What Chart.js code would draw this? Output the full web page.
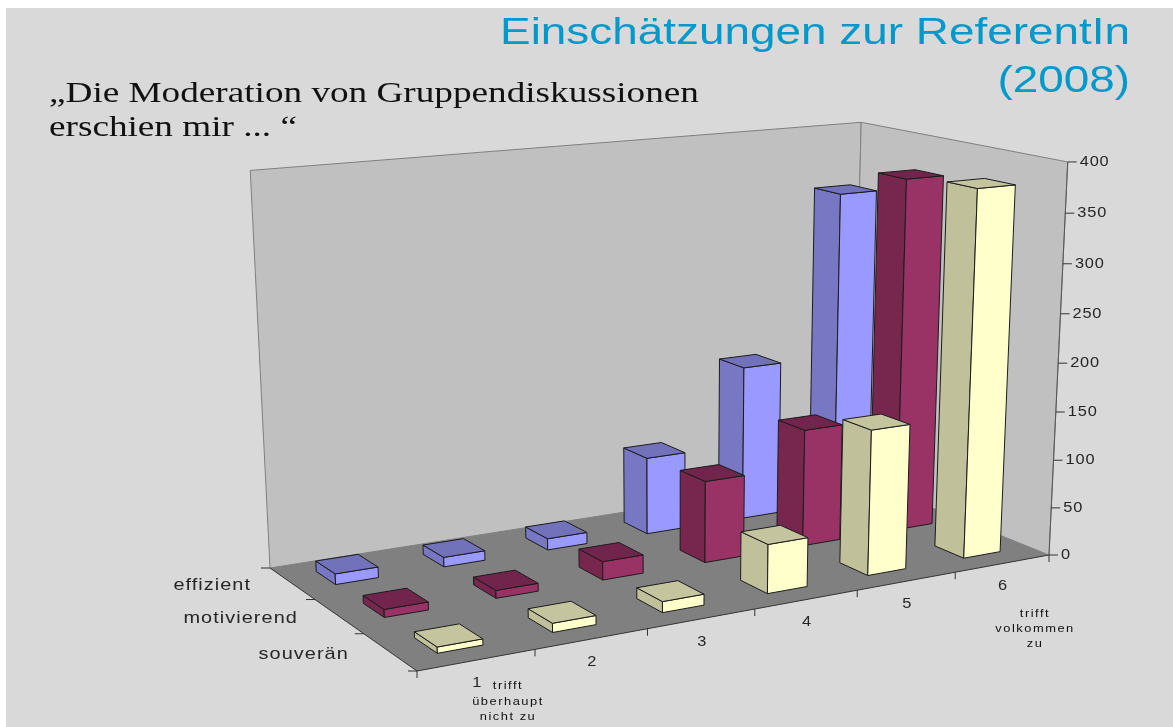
<!DOCTYPE html>
<html><head><meta charset="utf-8">
<style>
html,body{margin:0;padding:0;background:#fff;width:1173px;height:727px;overflow:hidden}
#panel{position:absolute;left:6px;top:8px;right:0;bottom:0;background:#d9d9d9}
#c{position:absolute;left:0;top:0}
</style>
<script src="https://cdn.jsdelivr.net/npm/chart.js@4"></script>
</head><body><div id="panel"></div><canvas id="c" width="1173" height="727"></canvas>
<script>
const categories = ['1','2','3','4','5','6'];
const seriesNames = ['effizient','motivierend','souverän'];
const effizient = [11,10,12,82,165,339];
const motivierend = [8,8,19,85,123,370];
const souveran = [6,9,11,50,149,376];
const yTicks = [0,50,100,150,200,250,300,350,400];
const titleLines = ['Einschätzungen zur ReferentIn','(2008)'];
const questionLines = ['„Die Moderation von Gruppendiskussionen','erschien mir ... “'];
const lowNote = ['trifft','überhaupt','nicht zu'];
const highNote = ['trifft','volkommen','zu'];

const faces = [
 {front:'#9999ff',side:'#7777c4',top:'#7272bb'},
 {front:'#993366',side:'#77264e',top:'#72254c'},
 {front:'#ffffcc',side:'#c0c09a',top:'#c4c49e'}
];
// camera calibration: floor corners and the three visible top corners of the box
const floorQ = [[417,671],[1049,555],[853,476],[270,568]];
const topCorners = [[1,0,1067,162.7],[0,1,250,170],[1,1,862,122]];
const TITLE_ANCHOR = 1130, STRETCH = 1.17, TITLE_STRETCH = 1.24;

function floorMap(q){
  const [p0,p1,p2,p3]=q;
  const dx1=p1[0]-p2[0],dx2=p3[0]-p2[0],sx=p0[0]-p1[0]+p2[0]-p3[0];
  const dy1=p1[1]-p2[1],dy2=p3[1]-p2[1],sy=p0[1]-p1[1]+p2[1]-p3[1];
  const den=dx1*dy2-dx2*dy1;
  const g=(sx*dy2-dx2*sy)/den,h=(dx1*sy-sx*dy1)/den;
  const a=p1[0]-p0[0]+g*p1[0],b=p3[0]-p0[0]+h*p3[0],c=p0[0];
  const d=p1[1]-p0[1]+g*p1[1],e=p3[1]-p0[1]+h*p3[1],f=p0[1];
  return (u,v)=>({X:a*u+b*v+c,Y:d*u+e*v+f,W:g*u+h*v+1});
}
const fm=floorMap(floorQ);
// least squares for the vertical axis of the projection
const cam=(()=>{
  let M=[[0,0,0,0],[0,0,0,0],[0,0,0,0]];
  const add=(r,y)=>{for(let i=0;i<3;i++){for(let j=0;j<3;j++)M[i][j]+=r[i]*r[j];M[i][3]+=r[i]*y;}};
  topCorners.forEach(([u,v,tx,ty])=>{const n=fm(u,v);
    add([1,0,-tx],n.W*tx-n.X);add([0,1,-ty],n.W*ty-n.Y);});
  for(let i=0;i<3;i++){
    const pv=M[i][i];for(let j=i;j<4;j++)M[i][j]/=pv;
    for(let r=0;r<3;r++)if(r!==i){const f=M[r][i];for(let j=i;j<4;j++)M[r][j]-=f*M[i][j];}
  }
  return {cx:M[0][3],cy:M[1][3],k:M[2][3]};
})();
function proj(u,d,t){const n=fm(u,d),w=n.W+t*cam.k;return [(n.X+t*cam.cx)/w,(n.Y+t*cam.cy)/w];}
function poly(ctx,pts,fill,stroke,lw){
  ctx.beginPath();pts.forEach((p,i)=>i?ctx.lineTo(p[0],p[1]):ctx.moveTo(p[0],p[1]));ctx.closePath();
  if(fill){ctx.fillStyle=fill;ctx.fill();}
  if(stroke){ctx.strokeStyle=stroke;ctx.lineWidth=lw||1;ctx.stroke();}
}
function seg(ctx,a,b,c,lw){ctx.beginPath();ctx.moveTo(a[0],a[1]);ctx.lineTo(b[0],b[1]);ctx.strokeStyle=c;ctx.lineWidth=lw||1;ctx.stroke();}
function label(ctx,t,x,y,font,align,spacing,color,stretch){
  ctx.save();ctx.translate(x,y);ctx.scale(stretch||STRETCH,1);
  ctx.font=font;ctx.textAlign=align;ctx.textBaseline='middle';ctx.fillStyle=color||'#262626';ctx.letterSpacing=spacing||'0px';ctx.fillText(t,0,0);ctx.restore();
}

const box3d={
 id:'box3d',
 beforeDraw(chart){
  const ctx=chart.ctx;ctx.save();ctx.translate(TITLE_ANCHOR,0);ctx.scale(TITLE_STRETCH,1);ctx.translate(-TITLE_ANCHOR,0);
 },
 beforeDatasetsDraw(chart){
  const ctx=chart.ctx,sx=chart.scales.x,sy=chart.scales.y,sz=chart.scales.z,A=chart.chartArea;
  ctx.restore();
  ctx.save();
  const U=i=>(sx.getPixelForValue(i)-A.left)/A.width;
  const D=i=>(A.bottom-sz.getPixelForValue(i))/A.height;
  const H=v=>(A.bottom-sy.getPixelForValue(v))/A.height;
  const cu=1/categories.length,cd=1/seriesNames.length;

  const edge='#7f7f7f';
  poly(ctx,[proj(0,1,0),proj(1,1,0),proj(1,1,1),proj(0,1,1)],'#c0c0c0',edge);
  poly(ctx,[proj(1,1,0),proj(1,0,0),proj(1,0,1),proj(1,1,1)],'#c0c0c0',edge);
  poly(ctx,[proj(0,0,0),proj(1,0,0),proj(1,1,0),proj(0,1,0)],'#808080',null);

  const ink='#333';
  seg(ctx,proj(0,0,0),proj(1,0,0),ink);
  seg(ctx,proj(0,0,0),proj(0,1,0),ink);
  seg(ctx,proj(1,0,0),proj(1,0,1),'#555');
  for(let i=0;i<=categories.length;i++){const p=proj(i*cu,0,0);seg(ctx,p,[p[0],p[1]+7],ink);}
  for(let i=0;i<=seriesNames.length;i++){const p=proj(0,i*cd,0);seg(ctx,[p[0]-9,p[1]],p,ink);}
  sy.ticks.forEach(t=>{const p=proj(1,0,H(t.value));seg(ctx,p,[p[0]+9,p[1]],ink);
    label(ctx,String(t.value),p[0]+12,p[1],'14px "Liberation Sans"','left','0.7px');});
  categories.forEach((c,i)=>{const p=proj(U(i),0,0);label(ctx,c,p[0],p[1]+23,'14px "Liberation Sans"','center');});
  seriesNames.forEach((s,i)=>{const p=proj(0,D(i),0);label(ctx,s,p[0]-41,p[1]+2,'17px "Liberation Sans"','right','0.9px');});

  const wu=cu*0.39/2,wd=cd*0.42/2;
  chart.data.datasets.forEach((ds,si)=>{
    const f=faces[si],d0=D(si)-wd,d1=D(si)+wd;
    for(let i=ds.data.length-1;i>=0;i--){
      const u0=U(i)-wu,u1=U(i)+wu,h=H(ds.data[i]);
      poly(ctx,[proj(u0,d1,0),proj(u0,d0,0),proj(u0,d0,h),proj(u0,d1,h)],f.side,'#1c1c1c');
      poly(ctx,[proj(u0,d0,0),proj(u1,d0,0),proj(u1,d0,h),proj(u0,d0,h)],f.front,'#1c1c1c');
      poly(ctx,[proj(u0,d0,h),proj(u1,d0,h),proj(u1,d1,h),proj(u0,d1,h)],f.top,'#1c1c1c');
    }
  });

  lowNote.forEach((t,i)=>label(ctx,t,508,686+i*15.5,'11px "Liberation Sans"','center','1.3px','#111'));
  highNote.forEach((t,i)=>label(ctx,t,1035,614+i*15,'11px "Liberation Sans"','center','1.3px','#111'));
  questionLines.forEach((t,i)=>label(ctx,t,49,94+i*34,'30px "Liberation Serif"','left','0px','#111',1.24));
  ctx.restore();
  return false;
 }
};

new Chart(document.getElementById('c'),{
 type:'bar',
 data:{labels:categories,datasets:[
  {label:seriesNames[0],data:effizient,backgroundColor:faces[0].front},
  {label:seriesNames[1],data:motivierend,backgroundColor:faces[1].front},
  {label:seriesNames[2],data:souveran,backgroundColor:faces[2].front}
 ]},
 plugins:[box3d],
 options:{
  responsive:false,animation:false,
  layout:{padding:{top:9,right:43,left:0,bottom:0}},
  plugins:{
   legend:{display:false},tooltip:{enabled:false},
   title:{display:true,text:titleLines,align:'end',color:'#0099cc',
     font:{family:'"Liberation Sans"',size:37,weight:'normal',lineHeight:1.32},padding:{top:0,bottom:0}}
  },
  scales:{
   x:{type:'category',display:false},
   y:{type:'linear',min:0,max:400,display:false,ticks:{stepSize:50}},
   z:{type:'category',axis:'y',labels:seriesNames,display:false,offset:true}
  }
 }
});
</script></body></html>
